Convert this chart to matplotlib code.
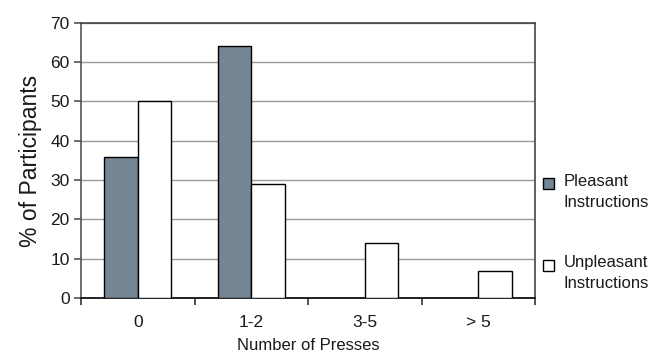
import matplotlib.pyplot as plt
import numpy as np
from matplotlib.patches import Rectangle

plt.rcParams["font.family"] = ["Liberation Sans", "DejaVu Sans"]

# 数据
categories = ["0", "1-2", "3-5", "> 5"]
pleasant = [36, 64, 0, 0]
unpleasant = [50, 29, 14, 7]
series_names = ["Pleasant\nInstructions", "Unpleasant\nInstructions"]
colors = ["#748593", "#ffffff"]

fig = plt.figure(figsize=(6.69, 3.57), dpi=100)
ax = fig.add_axes([0.121, 0.165, 0.679, 0.771])

x = np.arange(len(categories))
w = 0.295
ax.bar(x - w / 2, pleasant, width=w, color=colors[0], edgecolor="black", linewidth=1, zorder=3)
ax.bar(x + w / 2, unpleasant, width=w, color=colors[1], edgecolor="black", linewidth=1, zorder=3)

ax.set_xlim(-0.5, len(categories) - 0.5)
ax.set_ylim(0, 70)
ax.set_yticks(range(0, 71, 10))
ax.yaxis.grid(True, color="#9a9a9a", linewidth=1, zorder=0)

ax.set_xticks(x)
ax.set_xticklabels(categories)
ax.set_xticks(np.arange(-0.5, len(categories)), minor=True)
ax.tick_params(axis="x", which="major", length=0, pad=12, labelsize=12.5, labelcolor="#1a1a1a")
ax.tick_params(axis="x", which="minor", length=5, width=1.2, direction="out", color="#333")
ax.tick_params(axis="y", length=5, width=1.2, color="#555", labelsize=12.5, pad=3, labelcolor="#1a1a1a")

for s in ["top", "right"]:
    ax.spines[s].set_color("#444")
    ax.spines[s].set_linewidth(1.2)
ax.spines["left"].set_color("#555")
ax.spines["left"].set_linewidth(1.2)
ax.spines["bottom"].set_color("#222")
ax.spines["bottom"].set_linewidth(1.4)

ax.set_ylabel("% of Participants", fontsize=16.5, labelpad=6, color="#1a1a1a")
ax.set_xlabel("Number of Presses", fontsize=12, labelpad=6, color="#1a1a1a")

# 图例
for (ty, name, c) in zip([0.487, 0.258], series_names, colors):
    fig.patches.append(Rectangle((0.812, ty - 0.016), 0.0165, 0.031, transform=fig.transFigure,
                                 facecolor=c, edgecolor="black", linewidth=1))
    fig.text(0.843, ty + 0.027, name, fontsize=12, va="top", ha="left", linespacing=1.5,
             color="#1a1a1a")

fig.savefig("out.png", dpi=100)
